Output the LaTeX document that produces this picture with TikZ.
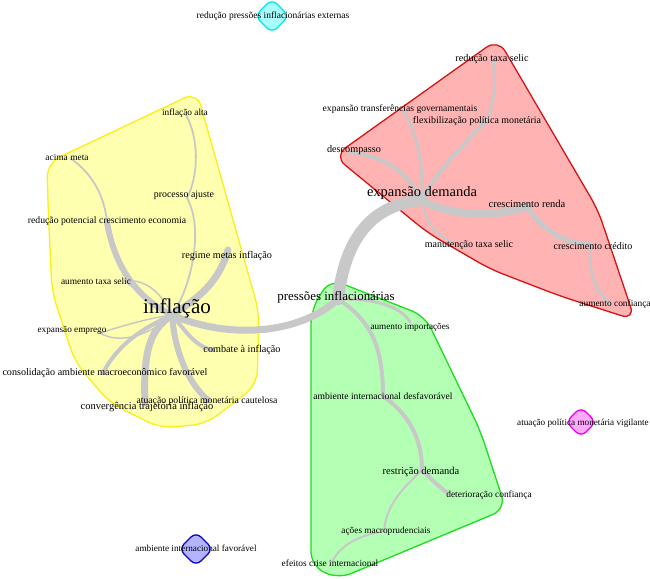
\documentclass[tikz,border=0pt]{standalone}
\usepackage{fontspec}
\setmainfont{Liberation Serif}
\definecolor{edgec}{RGB}{200,200,200}
\definecolor{yfill}{RGB}{255,255,176}
\definecolor{yline}{RGB}{250,240,20}
\definecolor{rfill}{RGB}{255,179,179}
\definecolor{rline}{RGB}{215,20,20}
\definecolor{gfill}{RGB}{179,255,179}
\definecolor{gline}{RGB}{30,220,30}
\definecolor{cfill}{RGB}{170,255,255}
\definecolor{cline}{RGB}{0,230,240}
\definecolor{bfill}{RGB}{179,179,255}
\definecolor{bline}{RGB}{10,10,190}
\definecolor{mfill}{RGB}{255,170,255}
\definecolor{mline}{RGB}{235,0,235}
\tikzset{
  lbl/.style={font=\fontsize{#1}{#1}\selectfont, inner sep=0pt, text=black},
  edg/.style={draw=edgec, line width=#1, line cap=round},
  hull/.style={line width=1.3pt, rounded corners=14pt},
  blob/.style={line width=1.3pt, rounded corners=7pt}
}
\begin{document}
\begin{tikzpicture}[x=1pt,y=-1pt]
\useasboundingbox (0,0) rectangle (650,578);
% hulls
\draw[hull, draw=yline, fill=yfill] (47,163) -- (197,92) -- (259,312) -- (257,385) -- (206,424) -- (160,428) -- (110,403) -- (75,362) -- (52,292) -- (48,205) -- cycle;
\draw[hull, draw=rline, fill=rfill] (334,156) -- (498,39) -- (598,210) -- (635,320) -- (560,296) -- (490,269) -- (428,233) -- cycle;
\draw[hull, draw=gline, fill=gfill] (330,279) -- (425,316) -- (480,430) -- (506,509) -- (338,579) -- (311,566) -- (311,310) -- cycle;
% isolated blobs
\coordinate (cb) at (272,16);
\coordinate (bb) at (196,549);
\coordinate (mb) at (581,422);
\draw[blob, draw=cline, fill=cfill] ([yshift=-17pt]cb) -- ([xshift=17pt]cb) -- ([yshift=17pt]cb) -- ([xshift=-17pt]cb) -- cycle;
\draw[blob, draw=bline, fill=bfill] ([yshift=-17pt]bb) -- ([xshift=17pt]bb) -- ([yshift=17pt]bb) -- ([xshift=-17pt]bb) -- cycle;
\draw[blob, draw=mline, fill=mfill] ([yshift=-15pt]mb) -- ([xshift=15pt]mb) -- ([yshift=15pt]mb) -- ([xshift=-15pt]mb) -- cycle;
% vertex coordinates
\coordinate (vIA) at (186,115);
\coordinate (vPA) at (187,198);
\coordinate (vAM) at (70,158);
\coordinate (vRP) at (107,222);
\coordinate (vRM) at (228,250);
\coordinate (vAT) at (125,281);
\coordinate (vEE) at (100,333);
\coordinate (vCA) at (103,373);
\coordinate (vCT) at (145,403);
\coordinate (vAC) at (208,400);
\coordinate (vCB) at (213,350);
\coordinate (vIN) at (172,315);
\coordinate (vPI) at (338,299);
\coordinate (vED) at (422,200);
\coordinate (vDC) at (350,152);
\coordinate (vTR) at (403,110);
\coordinate (vFX) at (487,119);
\coordinate (vRS) at (493,60);
\coordinate (vCR) at (527,207);
\coordinate (vCC) at (592,245);
\coordinate (vAF) at (610,304);
\coordinate (vMS) at (455,243);
\coordinate (vAI) at (410,322);
\coordinate (vAD) at (383,396);
\coordinate (vRD) at (422,470);
\coordinate (vDT) at (448,493);
\coordinate (vAP) at (384,531);
\coordinate (vEC) at (332,562);
% edges
\draw[edg=1.8pt] (vIA) .. controls (199,138) and (199,175) .. (vPA);
\draw[edg=1.8pt] (vPA) .. controls (205,230) and (190,290) .. (vIN);
\draw[edg=1.8pt] (vAM) .. controls (95,175) and (105,200) .. (vRP);
\draw[edg=6pt] (vRP) .. controls (115,270) and (140,300) .. (vIN);
\draw[edg=7pt] (vRM) .. controls (218,285) and (195,300) .. (vIN);
\draw[edg=1.5pt] (vAT) .. controls (150,278) and (165,300) .. (vIN);
\draw[edg=1.5pt] (vAT) .. controls (140,293) and (158,308) .. (vIN);
\draw[edg=1.5pt] (vEE) .. controls (120,345) and (150,335) .. (vIN);
\draw[edg=1.5pt] (vEE) .. controls (125,325) and (150,318) .. (vIN);
\draw[edg=4pt] (vCA) .. controls (120,340) and (150,325) .. (vIN);
\draw[edg=7pt] (vCT) .. controls (143,350) and (150,330) .. (vIN);
\draw[edg=6pt] (vIN) .. controls (175,355) and (190,385) .. (vAC);
\draw[edg=4pt] (vIN) .. controls (185,330) and (195,347) .. (vCB);
\draw[edg=7pt] (vIN) .. controls (230,340) and (300,334) .. (vPI);
\draw[edg=12pt] (vPI) .. controls (345,240) and (370,205) .. (vED);
\draw[edg=4pt] (vED) .. controls (405,170) and (385,157) .. (vDC);
\draw[edg=3pt] (vED) .. controls (423,165) and (418,135) .. (vTR);
\draw[edg=4pt] (vED) .. controls (440,165) and (470,140) .. (vFX);
\draw[edg=3pt] (vFX) .. controls (497,95) and (495,75) .. (vRS);
\draw[edg=8pt] (vED) .. controls (450,217) and (495,217) .. (vCR);
\draw[edg=5pt] (vCR) .. controls (540,225) and (555,242) .. (vCC);
\draw[edg=3pt] (vCC) .. controls (586,265) and (595,292) .. (vAF);
\draw[edg=2pt] (vED) .. controls (425,225) and (440,238) .. (vMS);
\draw[edg=3pt] (vPI) .. controls (370,298) and (400,305) .. (vAI);
\draw[edg=4pt] (vPI) .. controls (370,320) and (383,345) .. (vAD);
\draw[edg=4pt] (vAD) .. controls (410,415) and (422,440) .. (vRD);
\draw[edg=4pt] (vRD) .. controls (430,478) and (440,488) .. (vDT);
\draw[edg=2pt] (vRD) .. controls (395,495) and (386,510) .. (vAP);
\draw[edg=2pt] (vAP) .. controls (360,535) and (340,545) .. (vEC);
% labels
\node[lbl=9.5] (tPE) at (273,16) {redução pressões inflacionárias externas};
\node[lbl=9.3] (tIA) at (185,113) {inflação alta};
\node[lbl=9.4] (tAM) at (67,157) {acima meta};
\node[lbl=9.9] (tPA) at (184,195) {processo ajuste};
\node[lbl=9.7] (tRP) at (107,221) {redução potencial crescimento economia};
\node[lbl=10.2] (tRM) at (227,256) {regime metas inflação};
\node[lbl=9.4] (tAT) at (96,281) {aumento taxa selic};
\node[lbl=21] (tIN) at (177,308) {inflação};
\node[lbl=9.2] (tEE) at (72,330) {expansão emprego};
\node[lbl=10.2] (tCB) at (242,350) {combate à inflação};
\node[lbl=10.1] (tCA) at (105,373) {consolidação ambiente macroeconômico favorável};
\node[lbl=9.7] (tAC) at (207,401) {atuação política monetária cautelosa};
\node[lbl=10.5] (tCT) at (147,407) {convergência trajetória inflação};
\node[lbl=10.2] (tRS) at (492,59) {redução taxa selic};
\node[lbl=9.6] (tTR) at (400,109) {expansão transferências governamentais};
\node[lbl=9.9] (tFX) at (477,121) {flexibilização política monetária};
\node[lbl=10.2] (tDC) at (354,150) {descompasso};
\node[lbl=14.5] (tED) at (422,193) {expansão demanda};
\node[lbl=10.5] (tCR) at (527,204) {crescimento renda};
\node[lbl=10] (tMS) at (469,245) {manutenção taxa selic};
\node[lbl=10] (tCC) at (593,246) {crescimento crédito};
\node[lbl=9.4] (tAF) at (615,304) {aumento confiança};
\node[lbl=12.9] (tPI) at (336,297) {pressões inflacionárias};
\node[lbl=9.2] (tAI) at (410,327) {aumento importações};
\node[lbl=9.6] (tAD) at (383,396) {ambiente internacional desfavorável};
\node[lbl=10.5] (tRD) at (421,472) {restrição demanda};
\node[lbl=9.4] (tDT) at (489,495) {deterioração confiança};
\node[lbl=9.3] (tAP) at (386,531) {ações macroprudenciais};
\node[lbl=9.4] (tEC) at (330,563) {efeitos crise internacional};
\node[lbl=9.2] (tBF) at (196,548) {ambiente internacional favorável};
\node[lbl=9.2] (tMV) at (583,423) {atuação política monetária vigilante};
\end{tikzpicture}
\end{document}
